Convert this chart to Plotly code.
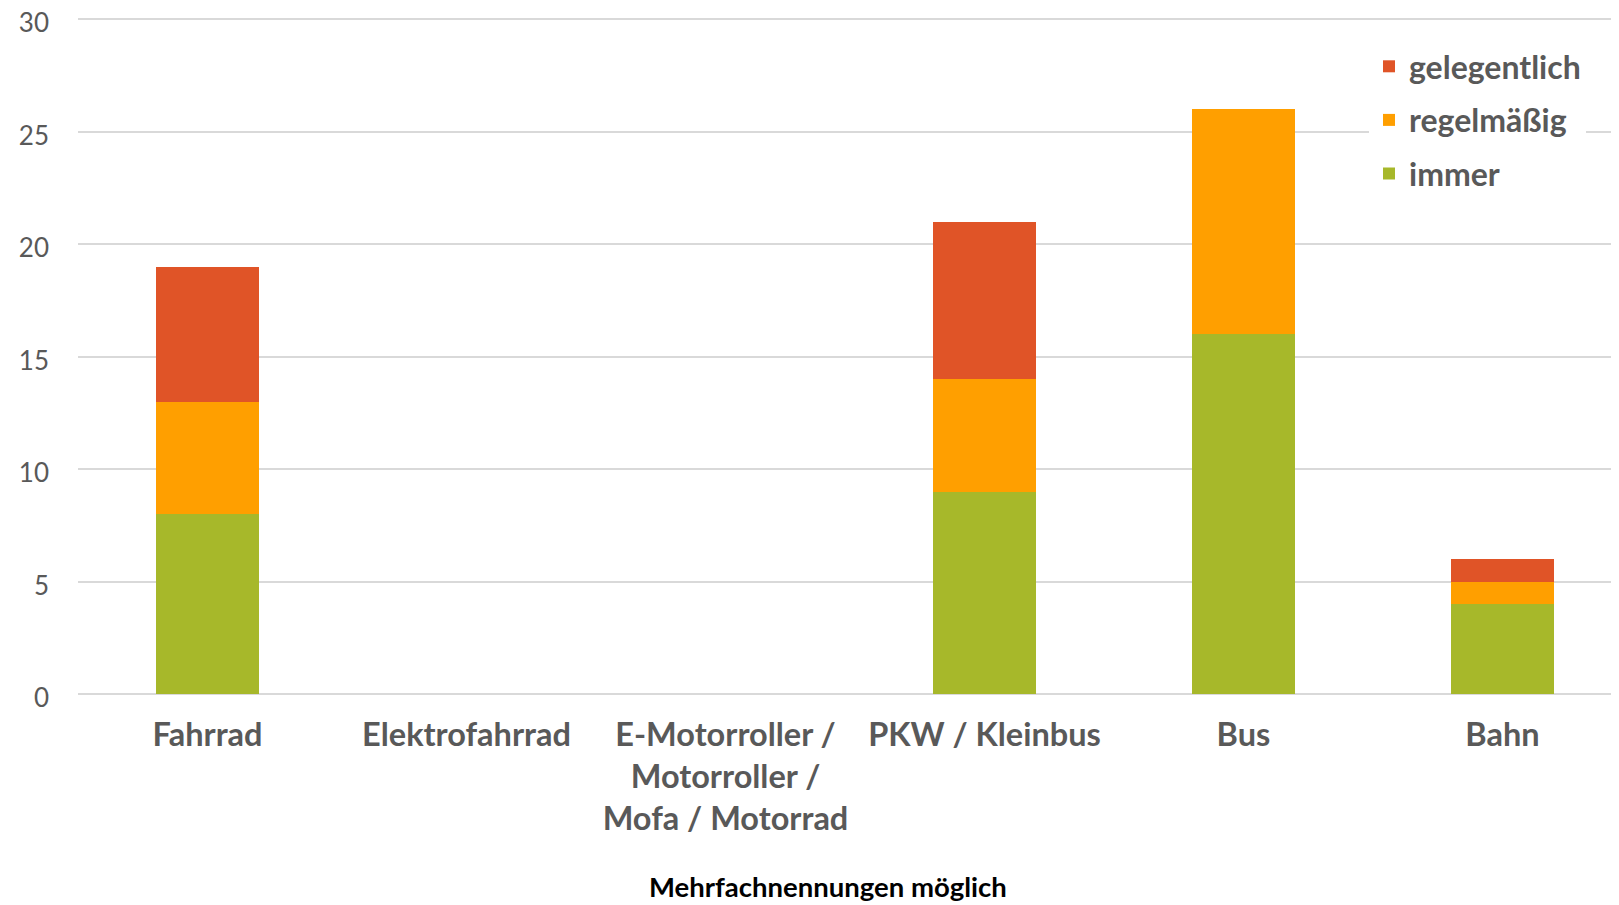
import plotly.graph_objects as go

categories = ["Fahrrad", "Elektrofahrrad", "E-Motorroller /<br>Motorroller /<br>Mofa / Motorrad",
              "PKW / Kleinbus", "Bus", "Bahn"]
immer = [8, 0, 0, 9, 16, 4]
regelmaessig = [5, 0, 0, 5, 10, 1]
gelegentlich = [6, 0, 0, 7, 0, 1]
y_ticks = [0, 5, 10, 15, 20, 25, 30]

colors = {"immer": "#A7B82A", "regelmäßig": "#FF9F00", "gelegentlich": "#E05427"}
ranks = {"immer": 3, "regelmäßig": 2, "gelegentlich": 1}
FONT = "Lato"
GRAY = "#595959"

# page body has an 8px default margin; figure is sized to compensate
W, H = 1611, 897
L, T, B = 70, 10, 211
YMAX = 30.05

fig = go.Figure()
for name, vals in [("immer", immer), ("regelmäßig", regelmaessig), ("gelegentlich", gelegentlich)]:
    fig.add_trace(go.Bar(x=list(range(len(categories))), y=vals, name="<b>%s</b>" % name,
                         legendgroup=name, legendrank=ranks[name],
                         marker=dict(color=colors[name], line=dict(width=0)), width=0.4))

fig.update_layout(
    barmode="stack",
    width=W, height=H,
    margin=dict(l=L, r=0, t=T, b=B, autoexpand=False),
    paper_bgcolor="white", plot_bgcolor="white",
    font=dict(family=FONT, color=GRAY),
    showlegend=True,
    legend=dict(traceorder="grouped", x=(1369 - 78) / 1541, y=1 - (40 - 19) / 676,
                xanchor="left", yanchor="top",
                font=dict(size=32, color=GRAY, family=FONT), bgcolor="white",
                itemwidth=30, tracegroupgap=9),
    xaxis=dict(range=[-0.5, 5.45], tickmode="array", tickvals=list(range(len(categories))),
               ticktext=["<b>%s</b>" % c for c in categories], showgrid=False,
               tickfont=dict(size=32.5, color=GRAY, family=FONT), ticks="", showline=False,
               zeroline=False, ticklabelstandoff=18, automargin=False),
    yaxis=dict(range=[0, YMAX], tickvals=y_ticks, showgrid=True, gridcolor="#D9D9D9", gridwidth=1.5,
               zeroline=True, zerolinecolor="#D9D9D9", zerolinewidth=1.5,
               tickfont=dict(size=26, color=GRAY, family=FONT), ticklabelstandoff=28,
               ticklabelshift=4, ticklabeloverflow="allow", automargin=False),
)
fig.add_annotation(text="<b>Mehrfachnennungen möglich</b>", xref="paper", yref="paper",
                   x=(828 - 78) / 1541, y=-(886 - 694) / 676, xanchor="center", yanchor="middle",
                   showarrow=False, font=dict(size=27.5, color="black", family=FONT))
fig.write_html("out.html")
